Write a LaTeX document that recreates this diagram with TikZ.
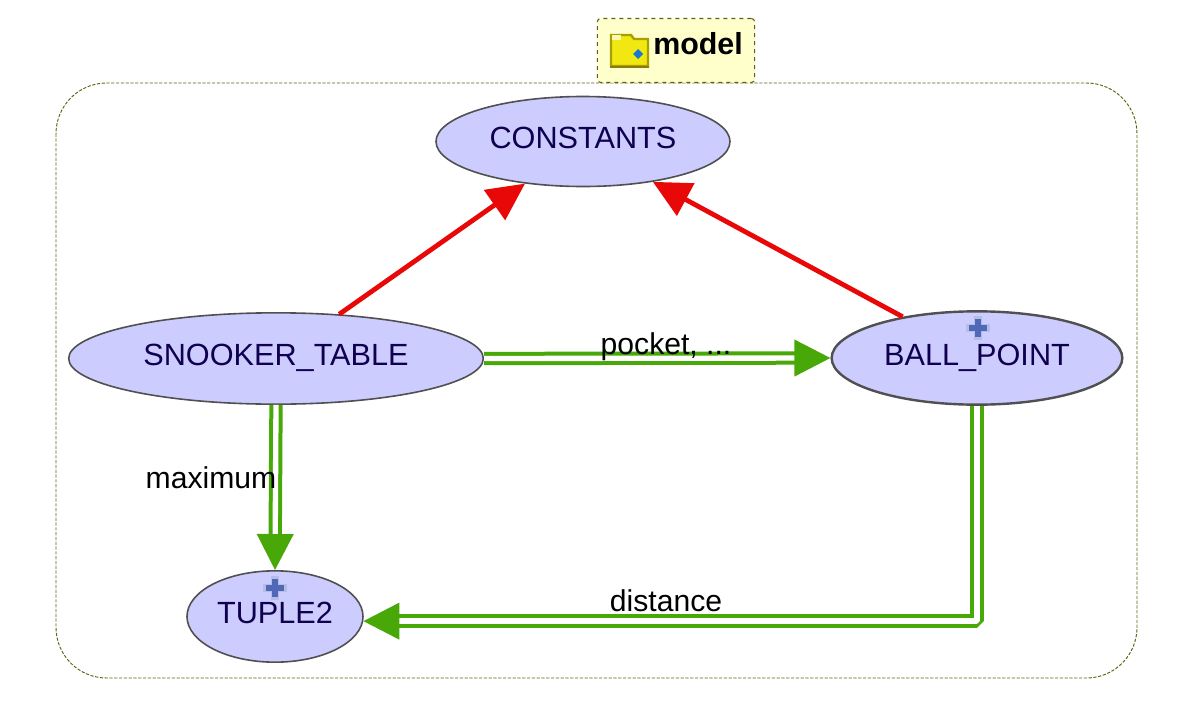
\documentclass[tikz,border=0pt]{standalone}
\usepackage{fontspec}
\setmainfont{Liberation Sans}
\usetikzlibrary{arrows.meta,shapes.geometric}
\definecolor{classfill}{HTML}{CCCCFF}
\definecolor{classtext}{HTML}{100050}
\definecolor{classline}{HTML}{505050}
\definecolor{clusterline}{HTML}{5F5F10}
\definecolor{notefill}{HTML}{FFFFCC}
\definecolor{clientred}{HTML}{E80808}
\definecolor{inheritgreen}{HTML}{48A808}
\definecolor{plusblue}{HTML}{5068B8}
\definecolor{plushalo}{HTML}{B4BEE4}
\definecolor{folderyellow}{HTML}{F0E810}
\definecolor{folderedge}{HTML}{A8A000}
\definecolor{folderbase}{HTML}{8C7A10}
\definecolor{folderdot}{HTML}{1878D0}
\begin{document}
\begin{tikzpicture}[x=0.75pt,y=-0.75pt,
    classnode/.style={shape=ellipse,draw=classline,fill=classfill,line width=1.2pt,
      inner sep=0pt,text=classtext,text height=16pt,text depth=5pt,font=\fontsize{23}{27}\selectfont},
    client/.style={draw=clientred,line width=3.6pt,-{Triangle[length=28pt,width=27pt]}},
    supplier/.style={draw=inheritgreen,line width=3pt,double=white,double distance=4pt,line join=bevel,
      -{Triangle[length=27pt,width=27pt]}},
    edgelabel/.style={font=\fontsize{22.6}{26}\selectfont,text=black,inner sep=0pt,anchor=base}]
    \useasboundingbox (0,0) rectangle (1190,714);
    \draw[clusterline,line width=0.7pt,dash pattern=on 2.4pt off 1.2pt,rounded corners=38pt] (56,83) rectangle (1137,678);
    \node[draw=clusterline,dashed,fill=notefill,line width=0.8pt,rounded corners=2.5pt,
      minimum width=118pt,minimum height=48pt,inner sep=0pt] (note) at (676,50.5) {};
    \node[font=\fontsize{22.8}{26}\selectfont\bfseries,inner sep=0pt,anchor=base west] (modelname) at (653,54) {model};
    \filldraw[draw=folderedge,fill=folderyellow,line width=1.8pt] (611,66) -- (611,35) -- (631,35) -- (634,39) -- (648,39) -- (648,66) -- cycle;
    \fill[white!70!folderyellow] (612,35) rectangle (621,40);
    \draw[folderbase,line width=1.8pt] (610,67) -- (649,67);
    \fill[folderdot] (638,49) -- (643,54) -- (638,59) -- (633,54) -- cycle;
    \node[classnode,minimum width=220.5pt,minimum height=67.5pt] (constants) at (583,141.5) {CONSTANTS};
    \node[classnode,minimum width=311pt,minimum height=68.5pt] (table) at (276,358.5) {SNOOKER\_TABLE};
    \node[classnode,minimum width=218pt,minimum height=70pt,line width=1.8pt] (ball) at (977,358) {BALL\_POINT};
    \node[classnode,minimum width=132pt,minimum height=68.5pt] (tuple) at (275,616.5) {TUPLE2};
    \foreach \px/\py in {978/328,275/588} {
      \draw[plushalo,line width=6.5pt] (\px-12,\py) -- (\px+12,\py) (\px,\py-12) -- (\px,\py+12);
      \draw[plusblue,line width=3.8pt] (\px-9,\py) -- (\px+9,\py) (\px,\py-9) -- (\px,\py+9);
    }
    \draw[client] (table.35) -- (constants.216);
    \draw[client] (ball.151) -- (constants.330);
    \draw[supplier] (table.east) -- (ball.west);
    \draw[supplier] (table.south) -- (tuple.north);
    \draw[supplier] (ball.south) |- (tuple.-3);
    \node[edgelabel] (pocketlabel) at (666,354) {pocket, ...};
    \node[edgelabel] (maximumlabel) at (211,488) {maximum};
    \node[edgelabel] (distancelabel) at (666,611) {distance};
\end{tikzpicture}
\end{document}
